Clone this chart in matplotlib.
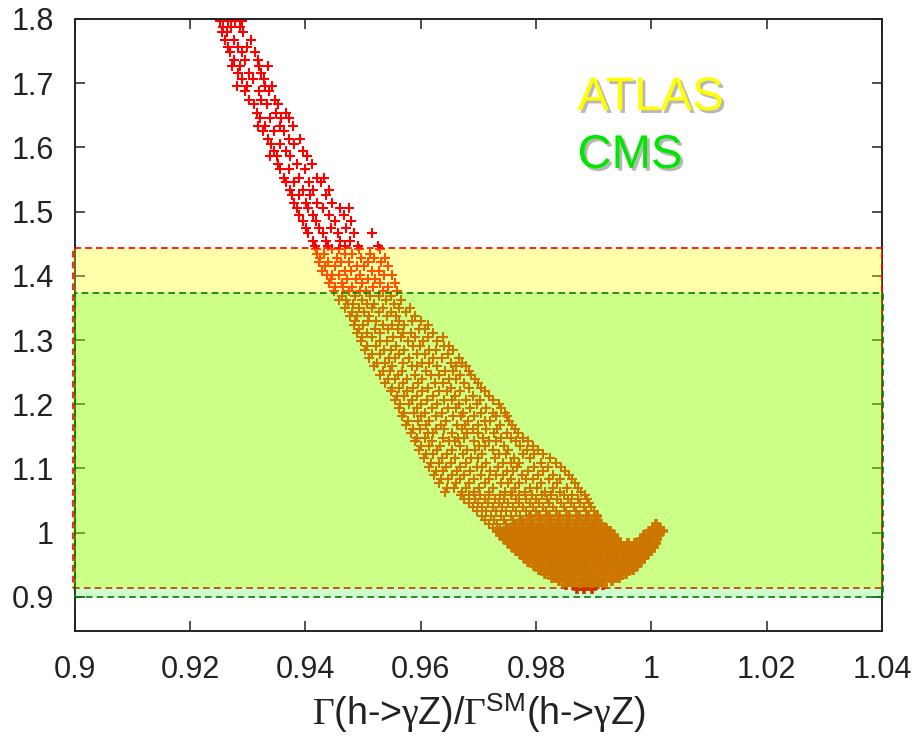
import numpy as np
import matplotlib
matplotlib.use("Agg")
import matplotlib.pyplot as plt
import matplotlib.patheffects as pe
from matplotlib.patches import Rectangle

plt.rcParams['font.family'] = ['Liberation Sans', 'DejaVu Sans']
plt.rcParams['mathtext.fontset'] = 'custom'
plt.rcParams['mathtext.rm'] = 'Liberation Serif'
plt.rcParams['mathtext.sf'] = 'Liberation Sans'
plt.rcParams['mathtext.it'] = 'Liberation Serif:italic'

# experimental bands (signal strength ranges)
atlas_range = (0.914, 1.443)
cms_range = (0.900, 1.373)

xticks = [0.9, 0.92, 0.94, 0.96, 0.98, 1.0, 1.02, 1.04]
xtick_labels = ['0.9', '0.92', '0.94', '0.96', '0.98', '1', '1.02', '1.04']
yticks = [0.9, 1.0, 1.1, 1.2, 1.3, 1.4, 1.5, 1.6, 1.7, 1.8]
ytick_labels = ['0.9', '1', '1.1', '1.2', '1.3', '1.4', '1.5', '1.6', '1.7', '1.8']

# scan points, grouped by rows of y
upper_rows = [
    (1.797, [0.9252, 0.9266, 0.9279, 0.9291]),
    (1.788, [0.9257, 0.9271, 0.9286]),
    (1.779, [0.9255, 0.9264, 0.9292]),
    (1.768, [0.9261, 0.9276, 0.9306]),
    (1.757, [0.9266, 0.9283, 0.9299]),
    (1.748, [0.9270, 0.9291, 0.9313]),
    (1.736, [0.9277, 0.9296, 0.9318]),
    (1.727, [0.9273, 0.9287, 0.9319, 0.9336]),
    (1.716, [0.9284, 0.9302, 0.9324]),
    (1.707, [0.9291, 0.9309, 0.9328]),
    (1.696, [0.9282, 0.9299, 0.9331, 0.9343]),
    (1.688, [0.9296, 0.9319, 0.9337]),
    (1.674, [0.9302, 0.9324, 0.9347]),
    (1.667, [0.9311, 0.9334, 0.9352]),
    (1.654, [0.9316, 0.9349, 0.9366]),
    (1.646, [0.9321, 0.9339, 0.9358, 0.9372]),
    (1.633, [0.9318, 0.9331, 0.9356, 0.9379]),
    (1.626, [0.9327, 0.9346, 0.9363]),
    (1.613, [0.9336, 0.9371, 0.9391]),
    (1.606, [0.9341, 0.9357, 0.9381]),
    (1.594, [0.9346, 0.9366, 0.9396]),
    (1.586, [0.9339, 0.9351, 0.9374, 0.9403]),
    (1.574, [0.9353, 0.9386, 0.9411]),
    (1.566, [0.9357, 0.9371, 0.9399]),
    (1.553, [0.9363, 0.9389, 0.9421, 0.9433]),
    (1.546, [0.9367, 0.9381, 0.9406, 0.9427]),
    (1.534, [0.9373, 0.9396, 0.9414, 0.9441]),
    (1.526, [0.9377, 0.9389, 0.9409, 0.9436]),
    (1.514, [0.9381, 0.9401, 0.9421, 0.9447]),
    (1.506, [0.9386, 0.9404, 0.9431, 0.9461, 0.9476]),
    (1.494, [0.9389, 0.9413, 0.9441, 0.9467]),
    (1.486, [0.9396, 0.9419, 0.9451, 0.9479]),
    (1.474, [0.9401, 0.9424, 0.9444, 0.9471]),
    (1.466, [0.9404, 0.9431, 0.9456, 0.9484, 0.9516]),
    (1.454, [0.9413, 0.9436, 0.9461, 0.9477]),
    (1.446, [0.9417, 0.9439, 0.9469, 0.9491, 0.9526]),
]

middle_rows = [
    (1.441, [0.9418, 0.9447, 0.9458, 0.9493, 0.9529]),
    (1.434, [0.9421, 0.9433, 0.9469, 0.9481, 0.9512]),
    (1.428, [0.9426, 0.9455, 0.9497, 0.9520, 0.9539]),
    (1.421, [0.9423, 0.9440, 0.9462, 0.9476, 0.9508, 0.9531]),
    (1.415, [0.9434, 0.9451, 0.9489, 0.9502, 0.9544]),
    (1.408, [0.9429, 0.9468, 0.9480, 0.9515, 0.9527]),
    (1.402, [0.9438, 0.9447, 0.9459, 0.9495, 0.9536, 0.9550]),
    (1.395, [0.9444, 0.9472, 0.9488, 0.9509, 0.9521]),
    (1.389, [0.9441, 0.9463, 0.9499, 0.9530, 0.9555]),
    (1.382, [0.9452, 0.9466, 0.9481, 0.9517, 0.9543]),
    (1.376, [0.9449, 0.9475, 0.9494, 0.9505, 0.9535, 0.9559]),
    (1.369, [0.9463, 0.9486, 0.9512, 0.9527, 0.9548]),
    (1.363, [0.9458, 0.9470, 0.9498, 0.9540, 0.9566]),
    (1.356, [0.9474, 0.9483, 0.9507, 0.9520, 0.9553]),
    (1.350, [0.9469, 0.9493, 0.9516, 0.9534, 0.9562, 0.9581]),
    (1.343, [0.9481, 0.9502, 0.9528, 0.9549, 0.9574]),
    (1.337, [0.9477, 0.9489, 0.9511, 0.9541, 0.9557, 0.9590]),
    (1.330, [0.9487, 0.9508, 0.9523, 0.9563, 0.9585, 0.9601]),
    (1.324, [0.9484, 0.9500, 0.9535, 0.9550, 0.9572, 0.9612]),
    (1.317, [0.9493, 0.9521, 0.9544, 0.9560, 0.9597, 0.9607]),
    (1.311, [0.9490, 0.9507, 0.9530, 0.9570, 0.9583, 0.9621]),
    (1.304, [0.9499, 0.9516, 0.9552, 0.9566, 0.9591, 0.9613, 0.9638]),
    (1.298, [0.9496, 0.9530, 0.9541, 0.9578, 0.9604, 0.9629]),
    (1.291, [0.9507, 0.9522, 0.9558, 0.9587, 0.9599, 0.9640, 0.9650]),
    (1.285, [0.9503, 0.9536, 0.9549, 0.9571, 0.9614, 0.9626, 0.9656]),
    (1.278, [0.9515, 0.9529, 0.9563, 0.9593, 0.9608, 0.9647]),
    (1.272, [0.9511, 0.9545, 0.9556, 0.9580, 0.9621, 0.9637, 0.9667]),
    (1.265, [0.9524, 0.9538, 0.9570, 0.9602, 0.9615, 0.9653, 0.9671]),
    (1.259, [0.9520, 0.9551, 0.9585, 0.9594, 0.9629, 0.9662, 0.9679]),
    (1.252, [0.9534, 0.9547, 0.9568, 0.9609, 0.9643, 0.9656, 0.9683]),
    (1.246, [0.9529, 0.9560, 0.9590, 0.9618, 0.9631, 0.9669, 0.9688]),
    (1.239, [0.9543, 0.9556, 0.9577, 0.9603, 0.9649, 0.9661, 0.9694]),
    (1.233, [0.9539, 0.9569, 0.9596, 0.9625, 0.9638, 0.9676, 0.9700]),
    (1.226, [0.9551, 0.9563, 0.9587, 0.9613, 0.9652, 0.9683, 0.9705]),
    (1.220, [0.9548, 0.9576, 0.9603, 0.9631, 0.9645, 0.9668, 0.9712]),
    (1.213, [0.9559, 0.9571, 0.9594, 0.9622, 0.9660, 0.9691, 0.9719]),
    (1.207, [0.9556, 0.9585, 0.9611, 0.9640, 0.9654, 0.9678, 0.9703, 0.9726]),
    (1.200, [0.9565, 0.9579, 0.9601, 0.9629, 0.9667, 0.9697, 0.9735]),
    (1.194, [0.9562, 0.9593, 0.9619, 0.9648, 0.9662, 0.9685, 0.9714, 0.9740]),
    (1.187, [0.9571, 0.9588, 0.9608, 0.9637, 0.9674, 0.9705, 0.9725, 0.9746]),
    (1.181, [0.9568, 0.9601, 0.9627, 0.9656, 0.9670, 0.9693, 0.9731, 0.9750]),
    (1.174, [0.9578, 0.9596, 0.9615, 0.9644, 0.9682, 0.9711, 0.9720, 0.9754]),
    (1.168, [0.9575, 0.9610, 0.9635, 0.9663, 0.9677, 0.9700, 0.9738, 0.9759]),
    (1.161, [0.9586, 0.9599, 0.9627, 0.9641, 0.9672, 0.9690, 0.9713, 0.9733, 0.9764]),
    (1.155, [0.9583, 0.9612, 0.9622, 0.9655, 0.9681, 0.9699, 0.9727, 0.9750, 0.9769]),
    (1.148, [0.9594, 0.9607, 0.9638, 0.9664, 0.9676, 0.9708, 0.9739, 0.9757, 0.9778]),
    (1.142, [0.9590, 0.9620, 0.9649, 0.9659, 0.9692, 0.9719, 0.9731, 0.9766, 0.9786]),
    (1.135, [0.9601, 0.9614, 0.9633, 0.9668, 0.9701, 0.9712, 0.9744, 0.9773, 0.9795]),
    (1.129, [0.9598, 0.9628, 0.9655, 0.9680, 0.9694, 0.9725, 0.9751, 0.9784, 0.9804]),
    (1.122, [0.9609, 0.9621, 0.9646, 0.9673, 0.9707, 0.9736, 0.9748, 0.9778, 0.9796, 0.9813]),
    (1.116, [0.9606, 0.9637, 0.9660, 0.9688, 0.9699, 0.9729, 0.9762, 0.9789, 0.9825]),
    (1.109, [0.9618, 0.9631, 0.9652, 0.9679, 0.9714, 0.9742, 0.9756, 0.9771, 0.9808, 0.9835]),
    (1.103, [0.9614, 0.9644, 0.9669, 0.9697, 0.9706, 0.9734, 0.9767, 0.9797, 0.9820, 0.9844]),
    (1.096, [0.9627, 0.9639, 0.9663, 0.9685, 0.9721, 0.9749, 0.9760, 0.9786, 0.9812, 0.9851]),
    (1.090, [0.9623, 0.9655, 0.9676, 0.9704, 0.9731, 0.9743, 0.9776, 0.9803, 0.9829, 0.9857]),
    (1.083, [0.9636, 0.9648, 0.9669, 0.9693, 0.9718, 0.9756, 0.9783, 0.9794, 0.9822, 0.9842, 0.9862]),
    (1.077, [0.9632, 0.9662, 0.9684, 0.9712, 0.9739, 0.9751, 0.9770, 0.9809, 0.9836, 0.9867]),
    (1.070, [0.9646, 0.9657, 0.9679, 0.9701, 0.9726, 0.9764, 0.9790, 0.9802, 0.9829, 0.9853, 0.9873]),
    (1.064, [0.9642, 0.9671, 0.9693, 0.9718, 0.9747, 0.9759, 0.9781, 0.9815, 0.9841, 0.9878]),
    (1.058, [0.9670, 0.9684, 0.9703, 0.9719, 0.9738, 0.9757, 0.9771, 0.9793, 0.9810, 0.9826, 0.9848, 0.9863, 0.9885]),
    (1.052, [0.9676, 0.9694, 0.9711, 0.9729, 0.9745, 0.9766, 0.9782, 0.9800, 0.9819, 0.9837, 0.9855, 0.9872, 0.9889]),
    (1.046, [0.9683, 0.9700, 0.9717, 0.9736, 0.9752, 0.9770, 0.9789, 0.9806, 0.9823, 0.9843, 0.9860, 0.9877, 0.9892]),
    (1.040, [0.9690, 0.9707, 0.9725, 0.9741, 0.9760, 0.9777, 0.9795, 0.9813, 0.9830, 0.9848, 0.9866, 0.9883, 0.9896]),
    (1.034, [0.9697, 0.9713, 0.9730, 0.9748, 0.9765, 0.9782, 0.9800, 0.9817, 0.9835, 0.9852, 0.9870, 0.9887, 0.9901]),
    (1.026, [0.9706, 0.9722, 0.9740, 0.9757, 0.9773]),
    (1.020, [0.9712, 0.9728, 0.9744, 0.9760]),
    (1.014, [0.9718, 0.9733, 0.9748]),
    (1.008, [0.9725, 0.9738]),
]

# densest part of the cloud (drawn with heavier crosses so it fills in)
bulk_rows = [
    (1.026, [0.9790, 0.9806, 0.9823, 0.9840, 0.9857, 0.9874, 0.9891, 0.9906]),
    (1.020, [0.9776, 0.9792, 0.9808, 0.9824, 0.9840, 0.9856, 0.9872, 0.9888, 0.9904]),
    (1.014, [0.9763, 0.9778, 0.9793, 0.9808, 0.9823, 0.9838, 0.9853, 0.9868, 0.9883, 0.9898, 0.9913, 1.0008]),
    (1.008, [0.9751, 0.9764, 0.9777, 0.9790, 0.9803, 0.9816, 0.9829, 0.9842, 0.9855, 0.9868,
             0.9881, 0.9894, 0.9907, 0.9922, 1.0003, 1.0015]),
    (1.002, [0.9732, 0.9745, 0.9758, 0.9771, 0.9784, 0.9797, 0.9810, 0.9823, 0.9836, 0.9849, 0.9862, 0.9875,
             0.9888, 0.9901, 0.9914, 0.9929, 0.9996, 1.0009, 1.0020]),
    (0.996, [0.9738, 0.9751, 0.9764, 0.9777, 0.9790, 0.9803, 0.9816, 0.9829, 0.9842, 0.9855, 0.9868, 0.9881,
             0.9894, 0.9907, 0.9920, 0.9935, 0.9988, 1.0001, 1.0014]),
    (0.990, [0.9745, 0.9758, 0.9771, 0.9784, 0.9797, 0.9810, 0.9823, 0.9836, 0.9849, 0.9862, 0.9875, 0.9888,
             0.9901, 0.9914, 0.9927, 0.9940, 0.9982, 0.9995, 1.0010]),
    (0.984, [0.9751, 0.9764, 0.9777, 0.9790, 0.9803, 0.9816, 0.9829, 0.9842, 0.9855, 0.9868, 0.9881, 0.9894,
             0.9907, 0.9920, 0.9933, 0.9946, 0.9959, 0.9972, 0.9985, 0.9998, 1.0008]),
    (0.978, [0.9758, 0.9771, 0.9784, 0.9797, 0.9810, 0.9823, 0.9836, 0.9849, 0.9862, 0.9875, 0.9888, 0.9901,
             0.9914, 0.9927, 0.9940, 0.9953, 0.9966, 0.9979, 0.9992, 1.0004]),
    (0.972, [0.9765, 0.9778, 0.9791, 0.9804, 0.9817, 0.9830, 0.9843, 0.9856, 0.9869, 0.9882, 0.9895, 0.9908,
             0.9921, 0.9934, 0.9947, 0.9960, 0.9973, 0.9986, 0.9999]),
    (0.966, [0.9772, 0.9785, 0.9798, 0.9811, 0.9824, 0.9837, 0.9850, 0.9863, 0.9876, 0.9889, 0.9902, 0.9915,
             0.9928, 0.9941, 0.9954, 0.9967, 0.9980, 0.9994]),
    (0.960, [0.9780, 0.9793, 0.9806, 0.9819, 0.9832, 0.9845, 0.9858, 0.9871, 0.9884, 0.9897, 0.9910, 0.9923,
             0.9936, 0.9949, 0.9962, 0.9975, 0.9988]),
    (0.954, [0.9787, 0.9800, 0.9813, 0.9826, 0.9839, 0.9852, 0.9865, 0.9878, 0.9891, 0.9904, 0.9917, 0.9930,
             0.9943, 0.9956, 0.9969, 0.9982]),
    (0.948, [0.9796, 0.9809, 0.9822, 0.9835, 0.9848, 0.9861, 0.9874, 0.9887, 0.9900, 0.9913, 0.9926, 0.9939,
             0.9952, 0.9965, 0.9975]),
    (0.942, [0.9805, 0.9818, 0.9831, 0.9844, 0.9857, 0.9870, 0.9883, 0.9896, 0.9909, 0.9922, 0.9935, 0.9948,
             0.9961, 0.9968]),
    (0.936, [0.9815, 0.9828, 0.9841, 0.9854, 0.9867, 0.9880, 0.9893, 0.9906, 0.9919, 0.9932, 0.9945, 0.9956]),
    (0.930, [0.9827, 0.9840, 0.9853, 0.9866, 0.9879, 0.9892, 0.9905, 0.9918, 0.9931, 0.9944]),
    (0.924, [0.9840, 0.9853, 0.9866, 0.9879, 0.9892, 0.9905, 0.9918, 0.9931]),
    (0.918, [0.9852, 0.9865, 0.9878, 0.9891, 0.9904, 0.9917]),
    (0.912, [0.9871, 0.9884, 0.9897]),
]

fig = plt.figure(figsize=(9.15, 7.44), dpi=100)
ax = fig.add_axes([0.0815, 0.152, 0.8825, 0.8225])

for rows, ms, mew in [(upper_rows, 7.8, 1.5), (middle_rows, 7.8, 1.5), (bulk_rows, 7.8, 2.6)]:
    xs = [x for y, row in rows for x in row]
    ys = [y for y, row in rows for x in row]
    ax.plot(xs, ys, linestyle='none', marker='+', color='red',
            markersize=ms, markeredgewidth=mew, zorder=2)

# bands are drawn on top of the points, tinting them
ax.add_patch(Rectangle((0.8997, atlas_range[0]), 0.1403, atlas_range[1] - atlas_range[0],
                       facecolor=(1, 1, 0, 0.33), edgecolor='red', linewidth=1.2,
                       linestyle=(0, (4, 2.5)), clip_on=False, zorder=5))
ax.add_patch(Rectangle((0.9, cms_range[0]), 0.1402, cms_range[1] - cms_range[0],
                       facecolor=(0, 1, 0, 0.2), edgecolor='#008000', linewidth=1.2,
                       linestyle=(0, (4, 2.5)), clip_on=False, zorder=6))

shadow = [pe.SimplePatchShadow(offset=(2, -2), shadow_rgbFace='#888888', alpha=0.6), pe.Normal()]
ax.text(0.9872, 1.658, 'ATLAS', color='#ffff00', fontsize=34, path_effects=shadow, zorder=7)
ax.text(0.9872, 1.568, 'CMS', color='#00e600', fontsize=34, path_effects=shadow, zorder=7)

ax.set_xlim(0.9, 1.04)
ax.set_ylim(0.847, 1.8)
ax.set_xticks(xticks)
ax.set_xticklabels(xtick_labels)
ax.set_yticks(yticks)
ax.set_yticklabels(ytick_labels)
ax.tick_params(direction='in', top=True, right=True, length=7, width=1.1,
               labelsize=22, colors='#222222')
ax.tick_params(axis='x', pad=17)
ax.tick_params(axis='y', pad=15)
for s in ax.spines.values():
    s.set_linewidth(1.4)
    s.set_color('#222222')

ax.set_xlabel(r'$\Gamma$(h->$\mathrm{\gamma}$Z)/$\Gamma^{\mathsf{SM}}$(h->$\mathrm{\gamma}$Z)',
              fontsize=27, labelpad=5, color='#222222')

fig.savefig('out.png', dpi=100)
